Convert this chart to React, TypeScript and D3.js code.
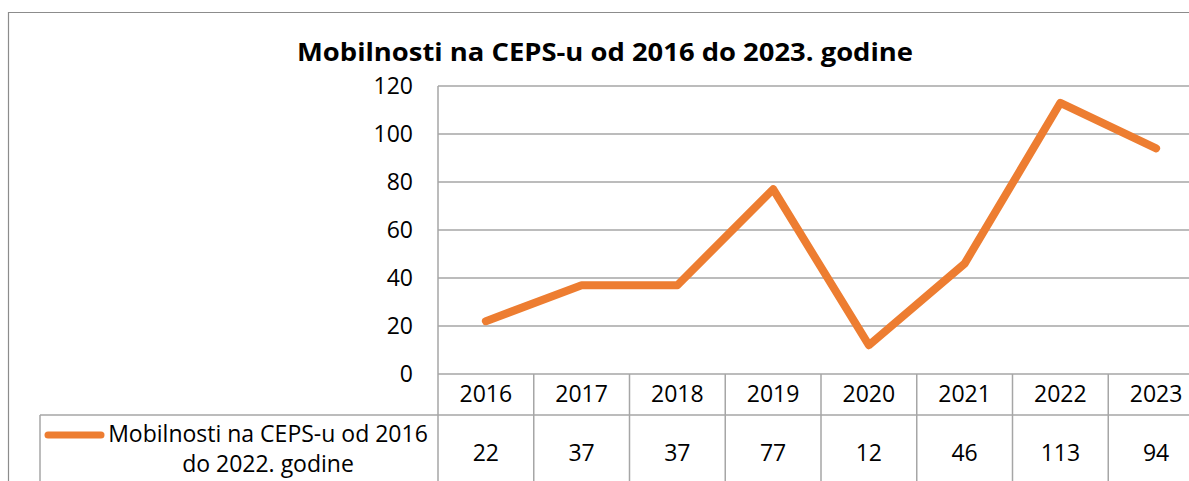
import React from "react";
import * as d3 from "d3";

const years = ["2016", "2017", "2018", "2019", "2020", "2021", "2022", "2023"];
const values = [22, 37, 37, 77, 12, 46, 113, 94];
const yTicks = [0, 20, 40, 60, 80, 100, 120];
const title = "Mobilnosti na CEPS-u od 2016 do 2023. godine";
const seriesName = ["Mobilnosti na CEPS-u od 2016", "do 2022. godine"];

const FONT = "'Open Sans', 'Noto Sans', sans-serif";

export default function App() {
  const W = 1189, H = 481;
  const plotLeft = 438, plotRight = 1204, plotTop = 86, plotBottom = 374;
  const headerBottom = 415;
  const legendLeft = 40;
  const grid = "#a6a6a6";
  const orange = "#ED7D31";
  const fs = 23;

  const x = d3.scaleBand<string>().domain(years).range([plotLeft, plotRight]).padding(0);
  const y = d3.scaleLinear().domain([0, 120]).range([plotBottom, plotTop]);
  const cx = (d: string) => (x(d) as number) + x.bandwidth() / 2;

  const line = d3
    .line<number>()
    .x((_, i) => cx(years[i]))
    .y((d) => y(d));

  return (
    <svg width={W} height={H} style={{ position: "absolute", left: 0, top: 0 }} fontFamily={FONT}>
      <rect x={0} y={0} width={W} height={H} fill="#fff" />
      {/* outer chart border */}
      <path d={`M8.5,${H} V12.5 H${W}`} fill="none" stroke="#8c8c8c" strokeWidth={1.2} />
      <text
        x={605}
        y={61}
        textAnchor="middle"
        fontSize={25}
        fontWeight="bold"
        fill="#000"
        textLength={616}
        lengthAdjust="spacingAndGlyphs"
      >
        {title}
      </text>
      {/* gridlines */}
      {yTicks.map((t) => (
        <line key={t} x1={plotLeft} x2={W} y1={y(t)} y2={y(t)} stroke={grid} strokeWidth={1.5} />
      ))}
      {yTicks.map((t) => (
        <text key={"l" + t} x={413} y={y(t) + 8} textAnchor="end" fontSize={fs} fill="#000">
          {t}
        </text>
      ))}
      {/* axis / table vertical lines */}
      <line x1={plotLeft} x2={plotLeft} y1={plotTop} y2={H} stroke={grid} strokeWidth={1.5} />
      {years.slice(1).map((yr) => (
        <line key={"v" + yr} x1={x(yr)} x2={x(yr)} y1={plotBottom} y2={H} stroke={grid} strokeWidth={1.5} />
      ))}
      <line x1={legendLeft} x2={W} y1={headerBottom} y2={headerBottom} stroke={grid} strokeWidth={1.5} />
      <line x1={legendLeft} x2={legendLeft} y1={headerBottom} y2={H} stroke={grid} strokeWidth={1.5} />
      {/* header years */}
      {years.map((yr) => (
        <text key={"h" + yr} x={cx(yr)} y={402} textAnchor="middle" fontSize={fs} fill="#000">
          {yr}
        </text>
      ))}
      {/* data row */}
      {values.map((v, i) => (
        <text key={"d" + i} x={cx(years[i])} y={461} textAnchor="middle" fontSize={fs} fill="#000">
          {v}
        </text>
      ))}
      {/* legend */}
      <line x1={48} x2={101} y1={435} y2={435} stroke={orange} strokeWidth={7} strokeLinecap="round" />
      <text x={268} y={442} textAnchor="middle" fontSize={fs} fill="#000">
        {seriesName[0]}
      </text>
      <text x={268} y={472} textAnchor="middle" fontSize={fs} fill="#000">
        {seriesName[1]}
      </text>
      {/* series line */}
      <path
        d={line(values) || ""}
        fill="none"
        stroke={orange}
        strokeWidth={8}
        strokeLinecap="round"
        strokeLinejoin="round"
      />
    </svg>
  );
}
